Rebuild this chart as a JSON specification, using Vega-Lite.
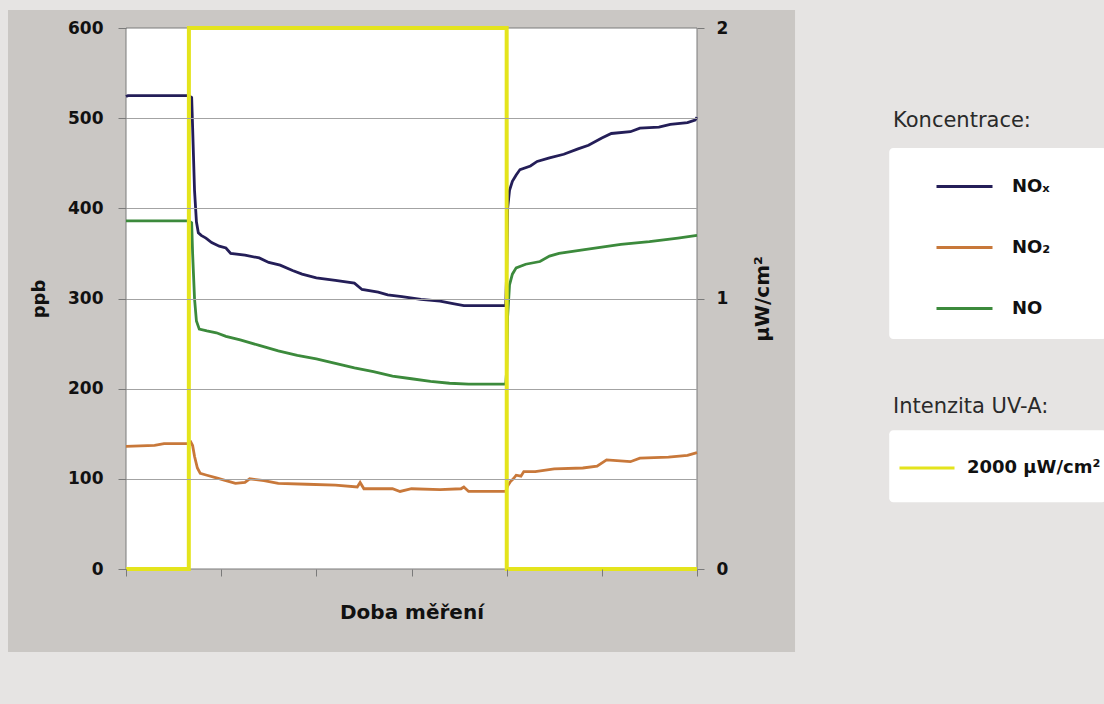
{
  "$schema": "https://vega.github.io/schema/vega-lite/v6.json",
  "width": 571,
  "height": 541,
  "autosize": {"type": "none"},
  "padding": {"left": 126, "top": 28, "right": 407, "bottom": 135},
  "background": "#e6e4e3",
  "config": {
    "font": "DejaVu Sans",
    "view": {"stroke": null, "fill": null},
    "axis": {"labelColor": "#111111", "titleColor": "#111111"}
  },
  "datasets": {
    "conc": [
      {"t": 0, "ppb": 524, "series": "NOₓ"},
      {"t": 0.02, "ppb": 525, "series": "NOₓ"},
      {"t": 0.66, "ppb": 525, "series": "NOₓ"},
      {"t": 0.69, "ppb": 523, "series": "NOₓ"},
      {"t": 0.70, "ppb": 490, "series": "NOₓ"},
      {"t": 0.72, "ppb": 420, "series": "NOₓ"},
      {"t": 0.74, "ppb": 385, "series": "NOₓ"},
      {"t": 0.76, "ppb": 373, "series": "NOₓ"},
      {"t": 0.79, "ppb": 370, "series": "NOₓ"},
      {"t": 0.84, "ppb": 367, "series": "NOₓ"},
      {"t": 0.90, "ppb": 362, "series": "NOₓ"},
      {"t": 0.98, "ppb": 358, "series": "NOₓ"},
      {"t": 1.05, "ppb": 356, "series": "NOₓ"},
      {"t": 1.10, "ppb": 350, "series": "NOₓ"},
      {"t": 1.25, "ppb": 348, "series": "NOₓ"},
      {"t": 1.40, "ppb": 345, "series": "NOₓ"},
      {"t": 1.50, "ppb": 340, "series": "NOₓ"},
      {"t": 1.62, "ppb": 337, "series": "NOₓ"},
      {"t": 1.75, "ppb": 331, "series": "NOₓ"},
      {"t": 1.85, "ppb": 327, "series": "NOₓ"},
      {"t": 2.00, "ppb": 323, "series": "NOₓ"},
      {"t": 2.20, "ppb": 320, "series": "NOₓ"},
      {"t": 2.40, "ppb": 317, "series": "NOₓ"},
      {"t": 2.48, "ppb": 310, "series": "NOₓ"},
      {"t": 2.65, "ppb": 307, "series": "NOₓ"},
      {"t": 2.75, "ppb": 304, "series": "NOₓ"},
      {"t": 2.90, "ppb": 302, "series": "NOₓ"},
      {"t": 3.10, "ppb": 299, "series": "NOₓ"},
      {"t": 3.30, "ppb": 297, "series": "NOₓ"},
      {"t": 3.45, "ppb": 294, "series": "NOₓ"},
      {"t": 3.55, "ppb": 292, "series": "NOₓ"},
      {"t": 3.99, "ppb": 292, "series": "NOₓ"},
      {"t": 4.00, "ppb": 330, "series": "NOₓ"},
      {"t": 4.01, "ppb": 400, "series": "NOₓ"},
      {"t": 4.03, "ppb": 420, "series": "NOₓ"},
      {"t": 4.06, "ppb": 430, "series": "NOₓ"},
      {"t": 4.10, "ppb": 437, "series": "NOₓ"},
      {"t": 4.14, "ppb": 443, "series": "NOₓ"},
      {"t": 4.25, "ppb": 447, "series": "NOₓ"},
      {"t": 4.32, "ppb": 452, "series": "NOₓ"},
      {"t": 4.45, "ppb": 456, "series": "NOₓ"},
      {"t": 4.60, "ppb": 460, "series": "NOₓ"},
      {"t": 4.75, "ppb": 466, "series": "NOₓ"},
      {"t": 4.86, "ppb": 470, "series": "NOₓ"},
      {"t": 5.00, "ppb": 478, "series": "NOₓ"},
      {"t": 5.10, "ppb": 483, "series": "NOₓ"},
      {"t": 5.30, "ppb": 485, "series": "NOₓ"},
      {"t": 5.40, "ppb": 489, "series": "NOₓ"},
      {"t": 5.60, "ppb": 490, "series": "NOₓ"},
      {"t": 5.72, "ppb": 493, "series": "NOₓ"},
      {"t": 5.90, "ppb": 495, "series": "NOₓ"},
      {"t": 5.98, "ppb": 498, "series": "NOₓ"},
      {"t": 6.00, "ppb": 501, "series": "NOₓ"},

      {"t": 0, "ppb": 136, "series": "NO₂"},
      {"t": 0.30, "ppb": 137, "series": "NO₂"},
      {"t": 0.40, "ppb": 139, "series": "NO₂"},
      {"t": 0.64, "ppb": 139, "series": "NO₂"},
      {"t": 0.68, "ppb": 141, "series": "NO₂"},
      {"t": 0.70, "ppb": 137, "series": "NO₂"},
      {"t": 0.72, "ppb": 125, "series": "NO₂"},
      {"t": 0.75, "ppb": 112, "series": "NO₂"},
      {"t": 0.78, "ppb": 106, "series": "NO₂"},
      {"t": 0.85, "ppb": 104, "series": "NO₂"},
      {"t": 0.95, "ppb": 101, "series": "NO₂"},
      {"t": 1.05, "ppb": 98, "series": "NO₂"},
      {"t": 1.15, "ppb": 95, "series": "NO₂"},
      {"t": 1.25, "ppb": 96, "series": "NO₂"},
      {"t": 1.30, "ppb": 100, "series": "NO₂"},
      {"t": 1.45, "ppb": 98, "series": "NO₂"},
      {"t": 1.60, "ppb": 95, "series": "NO₂"},
      {"t": 1.90, "ppb": 94, "series": "NO₂"},
      {"t": 2.20, "ppb": 93, "series": "NO₂"},
      {"t": 2.43, "ppb": 91, "series": "NO₂"},
      {"t": 2.46, "ppb": 96, "series": "NO₂"},
      {"t": 2.50, "ppb": 89, "series": "NO₂"},
      {"t": 2.80, "ppb": 89, "series": "NO₂"},
      {"t": 2.88, "ppb": 86, "series": "NO₂"},
      {"t": 3.00, "ppb": 89, "series": "NO₂"},
      {"t": 3.30, "ppb": 88, "series": "NO₂"},
      {"t": 3.52, "ppb": 89, "series": "NO₂"},
      {"t": 3.55, "ppb": 91, "series": "NO₂"},
      {"t": 3.60, "ppb": 86, "series": "NO₂"},
      {"t": 3.99, "ppb": 86, "series": "NO₂"},
      {"t": 4.01, "ppb": 92, "series": "NO₂"},
      {"t": 4.04, "ppb": 97, "series": "NO₂"},
      {"t": 4.07, "ppb": 100, "series": "NO₂"},
      {"t": 4.10, "ppb": 104, "series": "NO₂"},
      {"t": 4.15, "ppb": 103, "series": "NO₂"},
      {"t": 4.18, "ppb": 108, "series": "NO₂"},
      {"t": 4.30, "ppb": 108, "series": "NO₂"},
      {"t": 4.50, "ppb": 111, "series": "NO₂"},
      {"t": 4.80, "ppb": 112, "series": "NO₂"},
      {"t": 4.95, "ppb": 114, "series": "NO₂"},
      {"t": 5.05, "ppb": 121, "series": "NO₂"},
      {"t": 5.30, "ppb": 119, "series": "NO₂"},
      {"t": 5.40, "ppb": 123, "series": "NO₂"},
      {"t": 5.70, "ppb": 124, "series": "NO₂"},
      {"t": 5.90, "ppb": 126, "series": "NO₂"},
      {"t": 6.00, "ppb": 129, "series": "NO₂"},

      {"t": 0, "ppb": 386, "series": "NO"},
      {"t": 0.66, "ppb": 386, "series": "NO"},
      {"t": 0.69, "ppb": 384, "series": "NO"},
      {"t": 0.70, "ppb": 350, "series": "NO"},
      {"t": 0.72, "ppb": 300, "series": "NO"},
      {"t": 0.74, "ppb": 275, "series": "NO"},
      {"t": 0.77, "ppb": 266, "series": "NO"},
      {"t": 0.85, "ppb": 264, "series": "NO"},
      {"t": 0.95, "ppb": 262, "series": "NO"},
      {"t": 1.05, "ppb": 258, "series": "NO"},
      {"t": 1.20, "ppb": 254, "series": "NO"},
      {"t": 1.40, "ppb": 248, "series": "NO"},
      {"t": 1.60, "ppb": 242, "series": "NO"},
      {"t": 1.80, "ppb": 237, "series": "NO"},
      {"t": 2.00, "ppb": 233, "series": "NO"},
      {"t": 2.20, "ppb": 228, "series": "NO"},
      {"t": 2.40, "ppb": 223, "series": "NO"},
      {"t": 2.60, "ppb": 219, "series": "NO"},
      {"t": 2.80, "ppb": 214, "series": "NO"},
      {"t": 3.00, "ppb": 211, "series": "NO"},
      {"t": 3.20, "ppb": 208, "series": "NO"},
      {"t": 3.40, "ppb": 206, "series": "NO"},
      {"t": 3.60, "ppb": 205, "series": "NO"},
      {"t": 3.99, "ppb": 205, "series": "NO"},
      {"t": 4.00, "ppb": 220, "series": "NO"},
      {"t": 4.01, "ppb": 280, "series": "NO"},
      {"t": 4.03, "ppb": 315, "series": "NO"},
      {"t": 4.06, "ppb": 327, "series": "NO"},
      {"t": 4.10, "ppb": 334, "series": "NO"},
      {"t": 4.20, "ppb": 338, "series": "NO"},
      {"t": 4.35, "ppb": 341, "series": "NO"},
      {"t": 4.45, "ppb": 347, "series": "NO"},
      {"t": 4.55, "ppb": 350, "series": "NO"},
      {"t": 4.80, "ppb": 354, "series": "NO"},
      {"t": 5.00, "ppb": 357, "series": "NO"},
      {"t": 5.20, "ppb": 360, "series": "NO"},
      {"t": 5.50, "ppb": 363, "series": "NO"},
      {"t": 5.80, "ppb": 367, "series": "NO"},
      {"t": 6.00, "ppb": 370, "series": "NO"}
    ],
    "uv": [
      {"t": 0, "uv": 0, "series": "2000 µW/cm²"},
      {"t": 0.66, "uv": 0, "series": "2000 µW/cm²"},
      {"t": 0.661, "uv": 2, "series": "2000 µW/cm²"},
      {"t": 4.0, "uv": 2, "series": "2000 µW/cm²"},
      {"t": 4.001, "uv": 0, "series": "2000 µW/cm²"},
      {"t": 6, "uv": 0, "series": "2000 µW/cm²"}
    ]
  },
  "layer": [
    {
      "layer": [
        {
          "data": {"values": [{}]},
          "mark": {"type": "rect", "fill": "#cac7c4"},
          "encoding": {
            "x": {"datum": -1.24, "type": "quantitative"},
            "x2": {"datum": 7.03},
            "y": {"datum": -92, "type": "quantitative"},
            "y2": {"datum": 620}
          }
        },
        {
          "data": {"values": [{}]},
          "mark": {"type": "rect", "fill": "#ffffff", "cornerRadius": 4},
          "encoding": {
            "x": {"datum": 8.02, "type": "quantitative"},
            "x2": {"datum": 10.3},
            "y": {"datum": 255, "type": "quantitative"},
            "y2": {"datum": 467}
          }
        },
        {
          "data": {"values": [{}]},
          "mark": {"type": "rect", "fill": "#ffffff", "cornerRadius": 4},
          "encoding": {
            "x": {"datum": 8.02, "type": "quantitative"},
            "x2": {"datum": 10.3},
            "y": {"datum": 74, "type": "quantitative"},
            "y2": {"datum": 154}
          }
        },
        {
          "data": {"values": [{}]},
          "mark": {"type": "rect", "fill": "#ffffff", "stroke": "#7a7a7a", "strokeWidth": 1},
          "encoding": {
            "x": {"datum": 0, "type": "quantitative"},
            "x2": {"datum": 6},
            "y": {"datum": 0, "type": "quantitative"},
            "y2": {"datum": 600}
          }
        },
        {
          "data": {"name": "conc"},
          "mark": {"type": "line", "strokeWidth": 2.8, "interpolate": "linear"},
          "encoding": {
            "x": {
              "field": "t",
              "type": "quantitative",
              "scale": {"domain": [0, 6], "nice": false, "zero": false},
              "axis": {
                "title": "Doba měření",
                "values": [0, 1, 2, 3, 4, 5, 6],
                "labels": false,
                "grid": false,
                "domain": false,
                "tickSize": 7,
                "tickColor": "#7a7a7a",
                "titleFontSize": 20,
                "titleFontWeight": "bold",
                "titleY": 43,
                "titleBaseline": "middle",
                "zindex": 1
              }
            },
            "y": {
              "field": "ppb",
              "type": "quantitative",
              "scale": {"domain": [0, 600], "nice": false, "zero": false},
              "axis": {
                "title": "ppb",
                "orient": "left",
                "values": [0, 100, 200, 300, 400, 500, 600],
                "format": "d",
                "labelOverlap": false,
                "grid": true,
                "gridColor": "#a3a3a3",
                "gridWidth": 1,
                "gridOpacity": {"condition": {"test": "datum.value === 0 || datum.value === 600", "value": 0}, "value": 1},
                "domain": false,
                "tickSize": 8,
                "tickColor": "#7a7a7a",
                "labelPadding": 15,
                "labelFontSize": 17,
                "labelFontWeight": "bold",
                "titleFontSize": 18,
                "titleFontWeight": "bold",
                "titleAngle": -90,
                "titleX": -87,
                "titleY": 270.5,
                "titleBaseline": "middle",
                "titleAlign": "center",
                "zindex": 1
              }
            },
            "color": {
              "field": "series",
              "type": "nominal",
              "scale": {"domain": ["NOₓ", "NO₂", "NO"], "range": ["#241e58", "#c8783a", "#3c8a3c"]},
              "legend": {
                "orient": "none",
                "legendX": 767,
                "legendY": 82,
                "padding": 0,
                "title": "Koncentrace:",
                "titleFontSize": 21,
                "titleFontWeight": "normal",
                "titleColor": "#2a2a2a",
                "titlePadding": 26,
                "symbolType": "stroke",
                "symbolSize": 3136,
                "symbolStrokeWidth": 3,
                "symbolOffset": 42,
                "labelOffset": 18,
                "labelFontSize": 18,
                "labelFontWeight": "bold",
                "labelColor": "#111111",
                "rowPadding": 22
              }
            }
          }
        }
      ]
    },
    {
      "data": {"name": "uv"},
      "mark": {"type": "line", "strokeWidth": 4, "interpolate": "linear"},
      "encoding": {
        "x": {"field": "t", "type": "quantitative"},
        "y": {
          "field": "uv",
          "type": "quantitative",
          "scale": {"domain": [0, 2], "nice": false, "zero": false},
          "axis": {
            "title": "µW/cm²",
            "orient": "right",
            "values": [0, 1, 2],
            "labelExpr": "datum.value === 0 ? '0' : datum.value === 1 ? '1' : '2'",
            "labelOverlap": false,
            "grid": false,
            "domain": false,
            "tickSize": 7,
            "tickColor": "#7a7a7a",
            "labelPadding": 12,
            "labelFontSize": 17,
            "labelFontWeight": "bold",
            "titleFontSize": 20,
            "titleFontWeight": "bold",
            "titleAngle": -90,
            "titleX": 65,
            "titleY": 270.5,
            "titleBaseline": "middle",
            "titleAlign": "center",
            "zindex": 1
          }
        },
        "color": {
          "field": "series",
          "type": "nominal",
          "scale": {"domain": ["2000 µW/cm²"], "range": ["#e4e41c"]},
          "legend": {
            "orient": "none",
            "legendX": 767,
            "legendY": 368,
            "padding": 0,
            "title": "Intenzita UV-A:",
            "titleFontSize": 21,
            "titleFontWeight": "normal",
            "titleColor": "#2a2a2a",
            "titlePadding": 22,
            "symbolType": "stroke",
            "symbolSize": 3025,
            "symbolStrokeWidth": 3,
            "symbolOffset": 5,
            "labelOffset": 11,
            "labelFontSize": 18,
            "labelFontWeight": "bold",
            "labelColor": "#111111"
          }
        }
      }
    }
  ],
  "resolve": {"scale": {"y": "independent", "color": "independent"}}
}
